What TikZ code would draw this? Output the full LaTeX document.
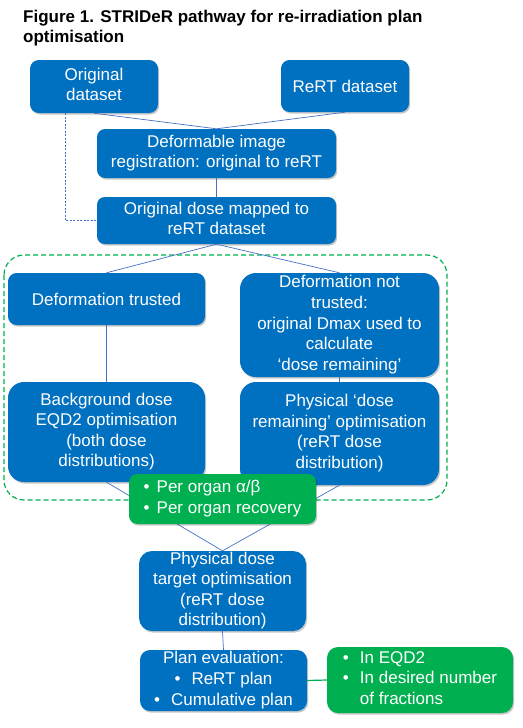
\documentclass[tikz,border=0pt]{standalone}
\usepackage{fontspec}
\setmainfont{Liberation Sans}[BoldFont={Liberation Sans Bold}]
\usetikzlibrary{shadows}
\definecolor{boxblue}{HTML}{0070C0}
\definecolor{boxgreen}{HTML}{00B050}
\definecolor{linkblue}{HTML}{4472C4}
\newcommand{\ps}{\rule[-4.2pt]{0pt}{20.6pt}}
\tikzset{
  boxfont/.style={font=\fontsize{17}{20.6}\selectfont},
  basebox/.style={boxfont, text=white, inner sep=0pt, align=center,
    execute at begin node=\ps, execute at end node=\ps,
    drop shadow={shadow xshift=1.2pt, shadow yshift=-1.6pt, opacity=0.22, fill=black}},
  bluebox/.style={basebox, fill=boxblue},
  greenbox/.style={basebox, fill=boxgreen},
  link/.style={draw=linkblue, line width=0.7pt},
  greenlink/.style={draw=boxgreen, line width=1.2pt},
}
\newcommand{\bul}[1]{\makebox[#1][l]{•}}
\begin{document}
\begin{tikzpicture}[x=1pt, y=-1pt]
\fill[white] (0,0) rectangle (522,728);
\useasboundingbox (0,0) rectangle (522,728);

\node[anchor=north west, inner sep=0pt, align=left,
      font=\fontsize{17}{20.7}\selectfont\bfseries] (title) at (23,9.6)
  {Figure 1. STRIDeR pathway for re-irradiation plan\\optimisation};

% main blue boxes
\node[bluebox, minimum width=128, minimum height=53, rounded corners=8.8] (orig) at (94,86.5) {Original\\dataset};
\node[bluebox, minimum width=128, minimum height=52, rounded corners=8.7] (rert) at (345,86) {ReRT dataset};
\node[bluebox, minimum width=239, minimum height=49, rounded corners=8.2] (dir) at (216.5,153.5) {Deformable image\\registration: original to reRT};
\node[bluebox, minimum width=239, minimum height=47, rounded corners=7.8] (odose) at (216.5,220.5) {Original dose mapped to\\reRT dataset};
\node[bluebox, minimum width=197, minimum height=52, rounded corners=8.7] (trusted) at (106.5,299) {Deformation trusted};
\node[bluebox, minimum width=199, minimum height=104, rounded corners=16] (ntrusted) at (339.5,325) {Deformation not\\trusted:\\original Dmax used to\\calculate\\‘dose remaining’};
\node[bluebox, minimum width=197, minimum height=100, rounded corners=16] (bg) at (106.5,432) {Background dose\\EQD2 optimisation\\(both dose\\distributions)};
\node[bluebox, minimum width=199, minimum height=103, rounded corners=16] (phys) at (339.5,433.5) {Physical ‘dose\\remaining’ optimisation\\(reRT dose\\distribution)};
\node[bluebox, minimum width=167, minimum height=80, rounded corners=13] (target) at (222.5,591) {Physical dose\\target optimisation\\(reRT dose\\distribution)};
\node[bluebox, minimum width=167, minimum height=61, rounded corners=10] (plan) at (223.5,680.5) {Plan evaluation:\\\bul{17pt}ReRT plan\\\bul{17pt}Cumulative plan};

% dashed green group outline
\draw[draw=boxgreen, line width=1.2pt, dashed, dash pattern=on 5pt off 3pt, rounded corners=20] (4,255) rectangle (447,500);

% connectors
\draw[link] (orig.south) -- (dir.north);
\draw[link] (rert.south) -- (dir.north);
\draw[link] (dir.south) -- (odose.north);
\draw[link, dashed, dash pattern=on 2pt off 1.5pt] ([xshift=-29pt]orig.south) |- (odose.west);
\draw[link] (odose.south) -- (trusted.north);
\draw[link] (odose.south) -- (ntrusted.north);
\draw[link] (trusted.south) -- (bg.north);
\draw[link] (ntrusted.south) -- (phys.north);
\draw[link] (bg.south) -- (target.north);
\draw[link] (phys.south) -- (target.north);
\draw[link] (target.south) -- (plan.north);

% green boxes
\node[greenbox, minimum width=187, minimum height=50, rounded corners=8.3, align=left] (organ) at (222.5,499) {\bul{13pt}Per organ α/β\\\bul{13pt}Per organ recovery};
\node[greenbox, minimum width=186, minimum height=66, rounded corners=11, align=left] (eqd) at (420,680) {\bul{17pt}In EQD2\\\bul{17pt}In desired number\\\hspace*{17pt}of fractions};

\draw[greenlink] (plan.east) -- (eqd.west);
\end{tikzpicture}
\end{document}
